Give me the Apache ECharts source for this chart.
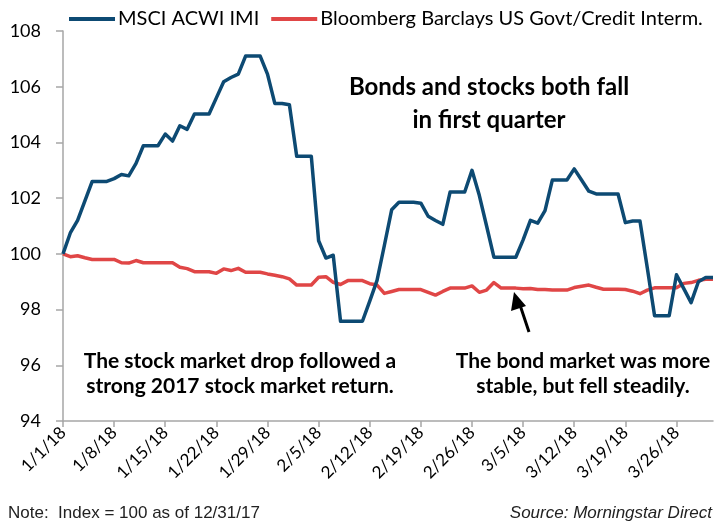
<!DOCTYPE html>
<html>
<head>
<meta charset="utf-8">
<script src="https://cdn.jsdelivr.net/npm/echarts@6/dist/echarts.min.js"></script>
<style>
html,body{margin:0;padding:0;background:#fff;}
#chart{width:725px;height:527px;}
</style>
</head>
<body>
<div id="chart"></div>
<script>
// Daily dates 1/1/18 - 3/31/18
const dates = [
 "1/1/18","1/2/18","1/3/18","1/4/18","1/5/18","1/6/18","1/7/18","1/8/18","1/9/18","1/10/18",
 "1/11/18","1/12/18","1/13/18","1/14/18","1/15/18","1/16/18","1/17/18","1/18/18","1/19/18","1/20/18",
 "1/21/18","1/22/18","1/23/18","1/24/18","1/25/18","1/26/18","1/27/18","1/28/18","1/29/18","1/30/18",
 "1/31/18","2/1/18","2/2/18","2/3/18","2/4/18","2/5/18","2/6/18","2/7/18","2/8/18","2/9/18",
 "2/10/18","2/11/18","2/12/18","2/13/18","2/14/18","2/15/18","2/16/18","2/17/18","2/18/18","2/19/18",
 "2/20/18","2/21/18","2/22/18","2/23/18","2/24/18","2/25/18","2/26/18","2/27/18","2/28/18","3/1/18",
 "3/2/18","3/3/18","3/4/18","3/5/18","3/6/18","3/7/18","3/8/18","3/9/18","3/10/18","3/11/18",
 "3/12/18","3/13/18","3/14/18","3/15/18","3/16/18","3/17/18","3/18/18","3/19/18","3/20/18","3/21/18",
 "3/22/18","3/23/18","3/24/18","3/25/18","3/26/18","3/27/18","3/28/18","3/29/18","3/30/18","3/31/18"
];

const msciAcwiImi = [
 100.00,100.75,101.20,101.90,102.60,102.60,102.60,102.70,102.85,102.80,
 103.25,103.88,103.88,103.88,104.30,104.05,104.60,104.47,105.02,105.02,
 105.02,105.60,106.18,106.33,106.45,107.10,107.10,107.10,106.45,105.40,
 105.40,105.35,103.50,103.50,103.50,100.47,99.85,99.95,97.58,97.58,
 97.58,97.58,98.30,99.05,100.30,101.58,101.85,101.85,101.85,101.82,
 101.35,101.20,101.06,102.22,102.22,102.22,103.00,102.10,101.00,99.88,
 99.88,99.88,99.88,100.50,101.20,101.10,101.55,102.65,102.65,102.65,
 103.05,102.65,102.25,102.15,102.15,102.15,102.15,101.12,101.18,101.18,
 99.50,97.78,97.78,97.78,99.25,98.75,98.25,99.00,99.15,99.15
];

const bbGovtCreditInterm = [
 100.00,99.90,99.93,99.86,99.80,99.80,99.80,99.80,99.68,99.67,
 99.76,99.68,99.68,99.68,99.68,99.68,99.52,99.47,99.36,99.36,
 99.36,99.30,99.46,99.40,99.48,99.34,99.34,99.34,99.28,99.23,
 99.18,99.10,98.88,98.88,98.88,99.16,99.18,98.98,98.90,99.04,
 99.04,99.04,98.93,98.88,98.58,98.65,98.72,98.72,98.72,98.72,
 98.62,98.52,98.65,98.77,98.77,98.77,98.85,98.62,98.70,98.97,
 98.77,98.77,98.77,98.75,98.76,98.72,98.72,98.70,98.70,98.70,
 98.79,98.84,98.88,98.80,98.73,98.73,98.73,98.72,98.66,98.57,
 98.70,98.78,98.78,98.78,98.78,98.94,98.97,99.05,99.09,99.09
];

const seriesNames = ["MSCI ACWI IMI", "Bloomberg Barclays US Govt/Credit Interm."];
const yTicks = { min: 94, max: 108, interval: 2 };

const FONT = "Lato, 'Open Sans', 'DejaVu Sans', sans-serif";
const NARROW = "'Liberation Sans Narrow', 'Liberation Sans', Arial, sans-serif";
const BLUE = "#0d4a73";
const RED = "#e04646";
const AXIS = "#a6a6a6";

const chart = echarts.init(document.getElementById('chart'), null, {renderer: 'canvas'});
chart.setOption({
  animation: false,
  backgroundColor: '#fff',
  grid: { left: 63, right: 12, top: 31, bottom: 106, containLabel: false },
  legend: {
    data: seriesNames,
    left: 64, top: 4,
    icon: 'rect',
    itemWidth: 46, itemHeight: 4,
    itemGap: 12,
    textStyle: { fontFamily: FONT, fontSize: 20, color: '#000', padding: [0,0,0,-2] }
  },
  xAxis: {
    type: 'category',
    data: dates,
    boundaryGap: false,
    axisLine: { lineStyle: { color: AXIS, width: 1.5 } },
    axisTick: { show: true, interval: 6, length: 6, lineStyle: { color: AXIS, width: 1.5 } },
    axisLabel: {
      interval: 6, rotate: 45, fontFamily: FONT, fontSize: 17, color: '#000', margin: 9
    },
    splitLine: { show: false }
  },
  yAxis: {
    type: 'value',
    min: yTicks.min, max: yTicks.max, interval: yTicks.interval,
    axisLine: { show: true, lineStyle: { color: AXIS, width: 1.5 } },
    axisTick: { show: true, length: 7, lineStyle: { color: AXIS, width: 1.5 } },
    axisLabel: { fontFamily: FONT, fontSize: 18, color: '#000', margin: 22 },
    splitLine: { show: false }
  },
  series: [
    {
      name: seriesNames[0], type: 'line', data: msciAcwiImi,
      symbol: 'none', smooth: false,
      lineStyle: { color: BLUE, width: 3.5, join: 'round' },
      itemStyle: { color: BLUE }, z: 3
    },
    {
      name: seriesNames[1], type: 'line', data: bbGovtCreditInterm,
      symbol: 'none', smooth: false,
      lineStyle: { color: RED, width: 3.5, join: 'round' },
      itemStyle: { color: RED }, z: 2
    }
  ],
  graphic: [
    { type: 'text', x: 489, y: 87, style: { text: 'Bonds and stocks both fall', font: 'bold 24px ' + FONT, fill: '#000', align: 'center', verticalAlign: 'middle' } },
    { type: 'text', x: 489, y: 120, style: { text: 'in first quarter', font: 'bold 24px ' + FONT, fill: '#000', align: 'center', verticalAlign: 'middle' } },
    { type: 'text', x: 240, y: 361, style: { text: 'The stock market drop followed a', font: 'bold 21px ' + FONT, fill: '#000', align: 'center', verticalAlign: 'middle' } },
    { type: 'text', x: 240, y: 386, style: { text: 'strong 2017 stock market return.', font: 'bold 21px ' + FONT, fill: '#000', align: 'center', verticalAlign: 'middle' } },
    { type: 'text', x: 583, y: 361, style: { text: 'The bond market was more', font: 'bold 21px ' + FONT, fill: '#000', align: 'center', verticalAlign: 'middle' } },
    { type: 'text', x: 583, y: 386, style: { text: 'stable, but fell steadily.', font: 'bold 21px ' + FONT, fill: '#000', align: 'center', verticalAlign: 'middle' } },
    { type: 'line', shape: { x1: 529, y1: 332, x2: 520, y2: 305 }, style: { stroke: '#000', lineWidth: 3 } },
    { type: 'polygon', shape: { points: [[514, 292], [511, 311], [526, 306]] }, style: { fill: '#000' } },
    { type: 'text', x: 8, y: 513, style: { text: 'Note:  Index = 100 as of 12/31/17', font: '17px ' + NARROW, fill: '#222', verticalAlign: 'middle' } },
    { type: 'text', x: 712, y: 513, style: { text: 'Source: Morningstar Direct', font: 'italic 17px ' + NARROW, fill: '#222', align: 'right', verticalAlign: 'middle' } }
  ]
});
</script>
</body>
</html>
